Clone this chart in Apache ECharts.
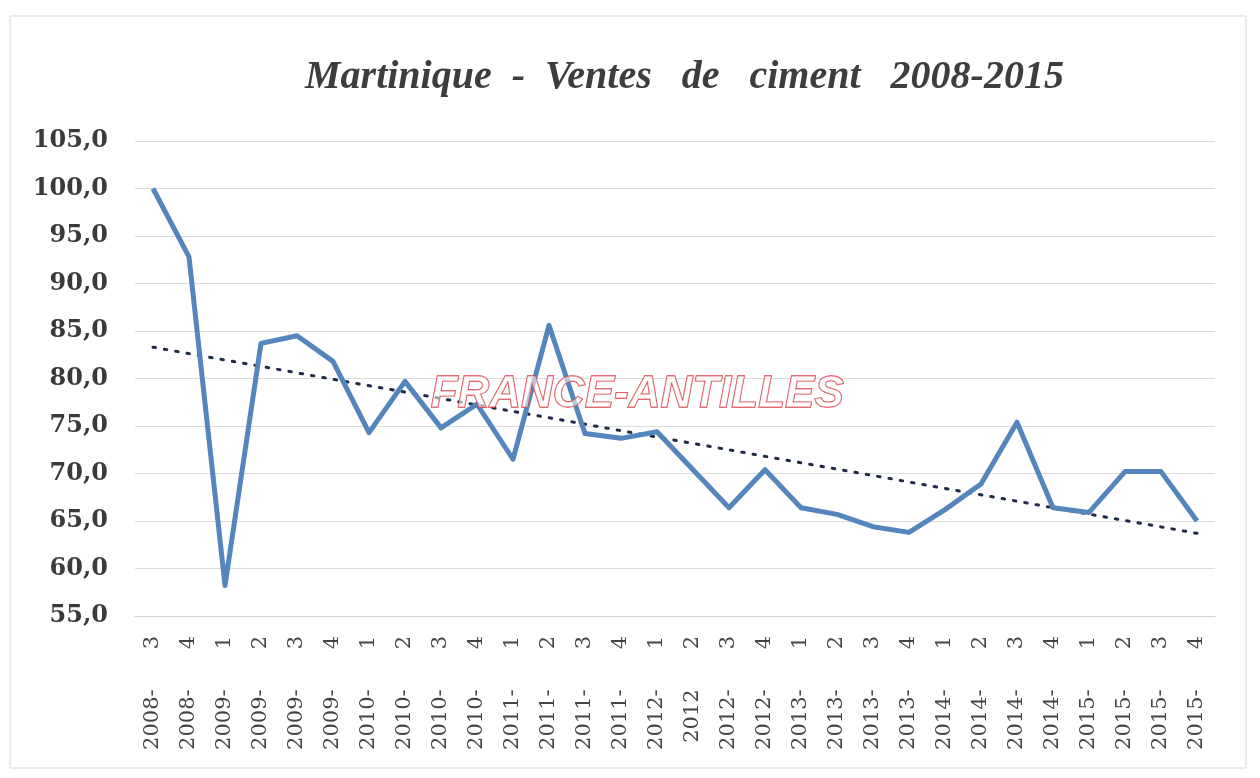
<!DOCTYPE html>
<html>
<head>
<meta charset="utf-8">
<script src="https://cdn.jsdelivr.net/npm/echarts@6/dist/echarts.min.js"></script>
<style>
html,body{margin:0;padding:0;background:#fff;}
#c{width:1260px;height:778px;}
</style>
</head>
<body>
<div id="c"></div>
<script>
const categories = ['2008- 3','2008- 4','2009- 1','2009- 2','2009- 3','2009- 4','2010- 1','2010- 2','2010- 3','2010- 4',
  '2011- 1','2011- 2','2011- 3','2011- 4','2012- 1','2012 2','2012- 3','2012- 4','2013- 1','2013- 2',
  '2013- 3','2013- 4','2014- 1','2014- 2','2014- 3','2014- 4','2015- 1','2015- 2','2015- 3','2015- 4'];
const ventes = [100.0, 92.8, 58.2, 83.7, 84.5, 81.8, 74.3, 79.7, 74.8, 77.3,
  71.5, 85.6, 74.2, 73.7, 74.4, 70.4, 66.4, 70.4, 66.4, 65.7,
  64.4, 63.8, 66.2, 68.9, 75.4, 66.4, 65.9, 70.2, 70.2, 65.0];
const trendStart = 83.3;
const trendEnd = 63.7;
const yMin = 55, yMax = 105, yStep = 5;
const titleText = 'Martinique  -  Ventes   de   ciment   2008-2015';
const watermark = 'FRANCE-ANTILLES';

const chart = echarts.init(document.getElementById('c'));
chart.setOption({
  backgroundColor: '#ffffff',
  animation: false,
  title: {
    text: titleText,
    left: 300,
    top: 53,
    textStyle: {
      fontFamily: 'Liberation Serif',
      fontStyle: 'italic',
      fontWeight: 'bold',
      fontSize: 40,
      color: '#3d3d3d'
    }
  },
  graphic: [
    {
      type: 'rect',
      shape: {x: 10, y: 16, width: 1236, height: 752},
      style: {fill: 'none', stroke: '#d8d8d8', lineWidth: 1},
      silent: true, z: -1
    },
    {
      type: 'text',
      left: 430, top: 372,
      style: {
        text: watermark,
        font: 'italic bold 44px "Liberation Sans Narrow", "Liberation Sans", sans-serif',
        fill: 'rgba(255,255,255,0.55)',
        stroke: '#d8424a',
        lineWidth: 1.3
      },
      z: 10
    }
  ],
  grid: {left: 135, right: 45, top: 141, bottom: 162, containLabel: false},
  xAxis: {
    type: 'category',
    data: categories,
    boundaryGap: true,
    axisLine: {show: true, lineStyle: {color: '#d0d0d0', width: 1}},
    axisTick: {show: false},
    axisLabel: {
      rotate: 90,
      interval: 0,
      margin: 20,
      fontFamily: 'DejaVu Serif',
      fontSize: 21,
      color: '#444',
      formatter: s => s.replace(' ', '      ')
    }
  },
  yAxis: {
    type: 'value',
    min: yMin, max: yMax, interval: yStep,
    axisLine: {show: false},
    axisTick: {show: false},
    splitLine: {lineStyle: {color: '#dcdcdc', width: 1}},
    axisLabel: {
      margin: 27,
      fontFamily: 'DejaVu Serif',
      fontWeight: 'bold',
      fontSize: 24,
      color: '#3a3a3a',
      formatter: v => v.toFixed(1).replace('.', ',')
    }
  },
  series: [
    {
      type: 'line',
      data: ventes,
      symbol: 'none',
      lineStyle: {color: '#5485bd', width: 5, join: 'round'},
      z: 3
    },
    {
      type: 'line',
      data: [[categories[0], trendStart], [categories[categories.length - 1], trendEnd]],
      symbol: 'none',
      lineStyle: {color: '#1f2a44', width: 3, type: [2.5, 9], cap: 'round'},
      z: 2
    }
  ]
});
</script>
</body>
</html>
